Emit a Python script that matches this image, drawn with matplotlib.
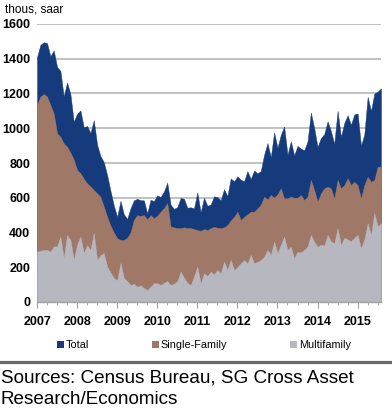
import numpy as np
import matplotlib
matplotlib.use("Agg")
import matplotlib.pyplot as plt
from matplotlib.patches import Patch
from matplotlib.ticker import MultipleLocator

plt.rcParams['font.family'] = ['Liberation Sans Narrow', 'Liberation Sans', 'DejaVu Sans']

# housing starts, thous saar, monthly Jan 2007 - Aug 2015
total = [1409, 1480, 1495, 1490, 1415, 1448, 1354, 1330, 1183, 1264, 1197, 1037,
         1084, 1103, 1005, 1013, 973, 1046, 905, 840, 805, 730, 640, 555,
         490, 582, 505, 478, 540, 585, 594, 586, 585, 510, 588, 581,
         614, 604, 636, 687, 560, 536, 546, 599, 594, 543, 545, 539,
         630, 517, 600, 554, 561, 608, 604, 586, 649, 610, 711, 694,
         723, 704, 695, 753, 708, 757, 740, 754, 847, 915, 833, 976,
         888, 962, 1010, 847, 925, 844, 898, 883, 873, 924, 1090, 1001,
         893, 944, 966, 1040, 984, 910, 1100, 950, 1030, 1075, 1020, 1080,
         1085, 900, 964, 1180, 1100, 1200, 1210, 1230]

single = [1134, 1182, 1197, 1182, 1134, 1086, 971, 951, 913, 894, 860, 820,
          760, 741, 710, 683, 665, 645, 625, 606, 549, 491, 440, 400,
          367, 357, 357, 370, 400, 472, 500, 495, 500, 476, 500, 482,
          497, 520, 540, 569, 434, 430, 425, 425, 430, 425, 426, 420,
          414, 410, 420, 414, 425, 433, 428, 425, 430, 443, 470, 490,
          520, 472, 490, 505, 520, 520, 539, 560, 606, 590, 616, 600,
          620, 654, 596, 597, 606, 600, 600, 616, 587, 606, 702, 645,
          577, 626, 654, 664, 654, 596, 702, 654, 673, 712, 673, 692,
          673, 596, 673, 721, 692, 702, 779, 779]

multi = [290, 295, 300, 300, 290, 320, 320, 376, 253, 385, 357, 242,
         330, 376, 282, 328, 299, 397, 242, 270, 282, 203, 170, 138,
         125, 224, 138, 120, 98, 105, 88, 95, 80, 69, 88, 108,
         108, 98, 110, 120, 98, 105, 120, 175, 140, 110, 98, 146,
         203, 107, 165, 150, 175, 160, 184, 165, 232, 184, 242, 184,
         200, 223, 242, 223, 271, 223, 232, 242, 260, 299, 271, 347,
         280, 330, 376, 299, 318, 251, 290, 285, 300, 318, 386, 347,
         318, 330, 325, 386, 350, 338, 424, 328, 370, 360, 350, 370,
         386, 309, 360, 453, 386, 511, 434, 453]

years = list(range(2007, 2016))
series_names = ["Total", "Single-Family", "Multifamily"]
colors = ["#153B7C", "#A07868", "#B7B7BF"]

x = 2007 + np.arange(len(total)) / 12.0

fig = plt.figure(figsize=(3.92, 4.16), dpi=100)
ax = fig.add_axes([37/392, 1 - 302/416, (381 - 37)/392, (302 - 24)/416])

for vals, c in zip([total, single, multi], colors):
    ax.fill_between(x, vals, 0, color=c, lw=0.3, edgecolor=c, zorder=2)

ax.set_ylim(0, 1600)
ax.set_xlim(2007, x[-1])
ax.set_yticks(range(0, 1601, 200))
ax.set_xticks(years)
ax.xaxis.set_minor_locator(MultipleLocator(0.25))
ax.grid(axis='y', color='#B0B0B0', lw=1.1, zorder=0)
ax.set_axisbelow(True)

for s in ['top', 'right', 'left']:
    ax.spines[s].set_visible(False)
ax.spines['bottom'].set_color('#A0A0A0')
ax.spines['bottom'].set_linewidth(1.0)
ax.spines['bottom'].set_zorder(3)

ax.tick_params(axis='y', length=0, pad=5, labelsize=9)
ax.tick_params(axis='x', which='major', length=4, color='#A0A0A0', pad=6, labelsize=9)
ax.tick_params(axis='x', which='minor', length=2.5, color='#A0A0A0')
for lab in ax.get_xticklabels() + ax.get_yticklabels():
    lab.set_fontweight('bold')

fig.text(5/392, 1 - 9/416, "thous, saar", fontsize=8.5, va='center', ha='left')

handles = [Patch(facecolor=c, edgecolor='none') for c in colors]
fig.legend(handles, series_names, loc='center', bbox_to_anchor=(204/392, 1 - 345/416),
           ncol=3, frameon=False, fontsize=7.8, handlelength=0.6, handleheight=0.6,
           handletextpad=0.2, columnspacing=5.8, borderpad=0)

fig.add_artist(plt.Line2D([0, 1], [1 - 361.5/416] * 2, color='#6A6A6A', lw=2.3,
                          transform=fig.transFigure))

fig.text(1/392, 1 - 378/416, "Sources: Census Bureau, SG Cross Asset",
         family='Liberation Sans', fontsize=13.6, va='center', ha='left')
fig.text(1/392, 1 - 400/416, "Research/Economics",
         family='Liberation Sans', fontsize=13.6, va='center', ha='left')

fig.savefig("out.png", dpi=100)
